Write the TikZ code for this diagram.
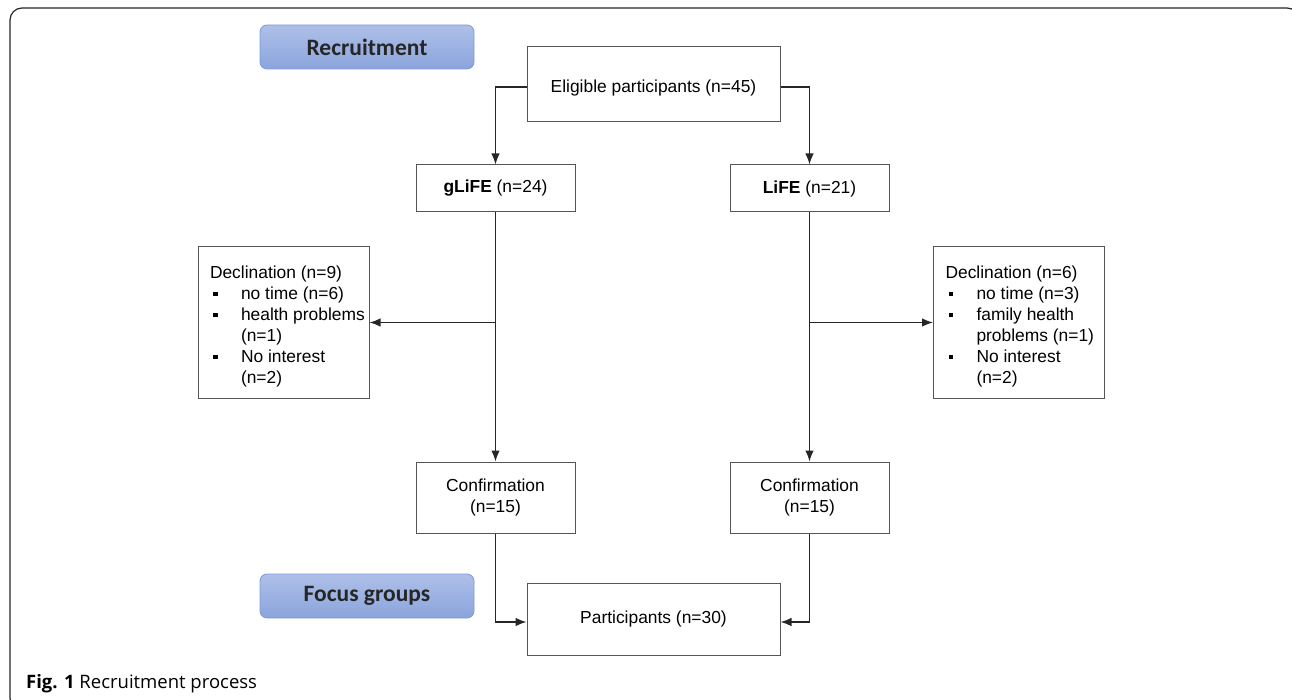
\documentclass[tikz,border=0pt]{standalone}
\usepackage{fontspec}
\setmainfont{Liberation Sans}
\newfontfamily\labelfont{Carlito}
\newfontfamily\capfont{Open Sans}
\usetikzlibrary{arrows.meta,positioning}
\definecolor{boxline}{HTML}{555555}
\definecolor{blueA}{HTML}{AEC0E8}
\definecolor{blueB}{HTML}{8AA4DC}
\definecolor{blueEdge}{HTML}{7E9BD8}
\newcommand{\bul}{\makebox[31pt][l]{\hspace{3pt}\rule[3pt]{4.5pt}{4.5pt}}}
\newcommand{\ind}{\hspace*{31pt}}
\newcommand{\dline}[1]{\mbox{#1}}
\newcommand{\declblock}[1]{\parbox[c]{147pt}{\raggedright\vspace*{7pt}#1}}
\tikzset{
  flowbox/.style={draw=boxline, line width=1pt, fill=white, inner sep=0pt,
    font=\fontsize{17.4}{21.5}\selectfont, align=center},
  declbox/.style={draw=boxline, line width=1pt, fill=white, inner sep=0pt,
    minimum width=171pt, minimum height=151pt, font=\fontsize{17.4}{21}\selectfont},
  tagbox/.style={draw=blueEdge, line width=0.8pt, rounded corners=7pt,
    top color=blueA, bottom color=blueB, minimum width=214pt, minimum height=44pt,
    font=\labelfont\bfseries\fontsize{23.5}{26}\selectfont, text=black!85},
  conn/.style={draw=black!85, line width=1.3pt},
  arr/.style={conn, -{Latex[length=11pt,width=8.5pt]}},
}
\begin{document}
\begin{tikzpicture}[x=1pt,y=-1pt]
\useasboundingbox (0,0) rectangle (1292,700);
% outer frame
\draw[line width=1.2pt, black!85, rounded corners=12pt] (30,710) -- (10,710) -- (10,8) -- (1299,8) -- (1299,60);

\node[tagbox] (rec) at (367,47) {Recruitment};
\node[tagbox] (foc) at (367,596) {Focus groups};

\node[flowbox, minimum width=253pt, minimum height=75pt] (elig) at (653.5,84.5) {\raisebox{-8.5pt}[0pt][0pt]{Eligible participants (n=45)}};
\node[flowbox, minimum width=159pt, minimum height=47pt] (glife) at (495.5,188.5) {\textbf{gLiFE} (n=24)};
\node[flowbox, minimum width=159pt, minimum height=47pt] (life) at (809.5,188.5) {\textbf{LiFE} (n=21)};

\node[declbox] (decl1) at (283.5,322.5) {\declblock{\dline{Declination (n=9)}\\
\dline{\bul no time (n=6)}\\
\dline{\bul health problems}\\
\dline{\ind(n=1)}\\
\dline{\bul No interest}\\
\dline{\ind(n=2)}}};
\node[declbox] (decl2) at (1019,322.5) {\declblock{\dline{Declination (n=6)}\\
\dline{\bul no time (n=3)}\\
\dline{\bul family health}\\
\dline{\ind problems (n=1)}\\
\dline{\bul No interest}\\
\dline{\ind(n=2)}}};

\node[flowbox, minimum width=159pt, minimum height=71pt] (conf1) at (495.5,497.5) {Confirmation\\(n=15)};
\node[flowbox, minimum width=159pt, minimum height=71pt] (conf2) at (809.5,497.5) {Confirmation\\(n=15)};
\node[flowbox, minimum width=253pt, minimum height=72pt] (part) at (653.5,619) {Participants (n=30)};

\draw[arr] ([yshift=-2.5pt]elig.west) -| (glife.north);
\draw[arr] ([yshift=-2.5pt]elig.east) -| (life.north);
\draw[arr] (glife.south) -- (conf1.north);
\draw[arr] (life.south) -- (conf2.north);
\draw[arr] (glife.south |- decl1.east) -- (decl1.east);
\draw[arr] (life.south |- decl2.west) -- (decl2.west);
\draw[arr] (conf1.south) |- ([yshift=-3pt]part.west);
\draw[arr] (conf2.south) |- ([yshift=-3pt]part.east);

\node[anchor=base west, inner sep=0pt, font=\capfont\fontsize{18.5}{22}\selectfont] (cap) at (26,688) {\textbf{Fig. 1} Recruitment process};
\end{tikzpicture}
\end{document}
